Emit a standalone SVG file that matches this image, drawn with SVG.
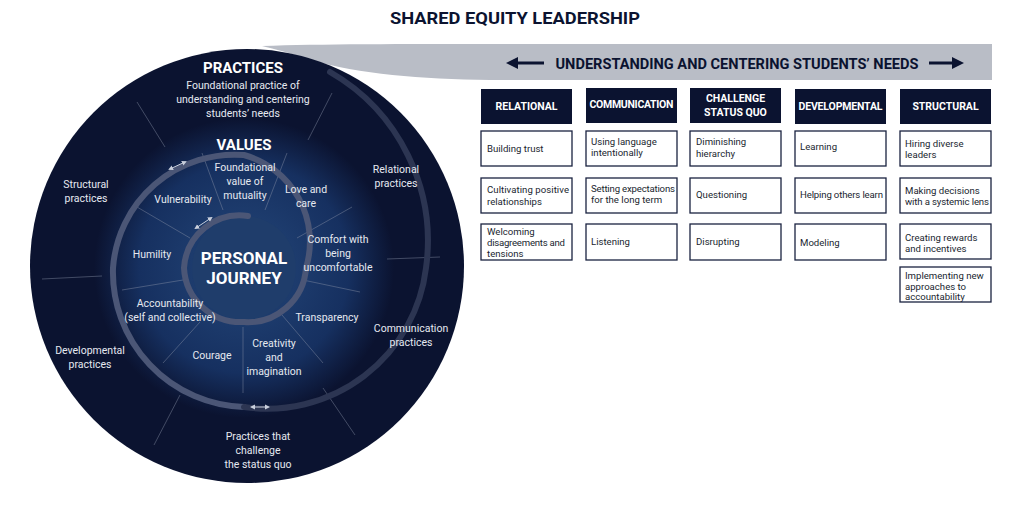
<svg xmlns="http://www.w3.org/2000/svg" width="1024" height="508" viewBox="0 0 1024 508">
<style>
text{font-family:Roboto,"Liberation Sans",sans-serif}
.w{fill:#e6e9f0;font-size:10.5px;text-anchor:middle}
.hd{fill:#fff;font-weight:bold;text-anchor:middle}
.rad{stroke:#8a93a8;stroke-width:0.8;opacity:0.55}
.cell{fill:#fff;stroke:#1a2240;stroke-width:1.3}
.hbox{fill:#0b1330}
.ct{fill:#1a1f30;font-size:9.6px}
.ht{fill:#fff;font-weight:bold;font-size:10.5px;text-anchor:middle}
</style>
<defs>
<radialGradient id="vg" cx="0.5" cy="0.5" r="0.5">
<stop offset="0" stop-color="#24477a"/><stop offset="0.7" stop-color="#163060"/><stop offset="1" stop-color="#0b1330"/>
</radialGradient>
<marker id="ah" markerWidth="6" markerHeight="6" refX="3" refY="3" orient="auto-start-reverse"><path d="M0,0.5 L5,3 L0,5.5z" fill="#c9cfdc"/></marker>
<marker id="bk" markerWidth="4" markerHeight="4" refX="2" refY="2" orient="auto-start-reverse"><path d="M0,0 L4,2 L0,4z" fill="#0b1330"/></marker>
</defs>
<rect width="1024" height="508" fill="#fff"/>
<text x="515" y="24" class="hd" style="fill:#0b1330;font-size:17px" textLength="250" lengthAdjust="spacingAndGlyphs">SHARED EQUITY LEADERSHIP</text>
<g id="band">
<path d="M262,46 C320,44 400,44 500,44 L992,44 L992,80 L490,80 C420,79 360,74 310,60 C290,53 275,49 262,46Z" fill="#b9bdc6"/>
<line x1="512" y1="63" x2="544" y2="63" stroke="#0b1330" stroke-width="3" marker-start="url(#bk)"/>
<line x1="929" y1="63" x2="958" y2="63" stroke="#0b1330" stroke-width="3" marker-end="url(#bk)"/>
<text x="737" y="69" class="hd" style="fill:#0b1330;font-size:14.5px" textLength="363" lengthAdjust="spacingAndGlyphs">UNDERSTANDING AND CENTERING STUDENTS’ NEEDS</text>
</g>
<g id="wheel">
<circle cx="247" cy="266" r="217" fill="#0b1330"/>
<circle cx="244" cy="268" r="150" fill="url(#vg)"/>
<circle cx="244" cy="268" r="52" fill="#1f3d6b"/>
</g>
<g id="dividers">
<line class="rad" x1="137" y1="102" x2="165" y2="147"/>
<line class="rad" x1="332" y1="93" x2="308" y2="140"/>
<line class="rad" x1="440" y1="257" x2="387" y2="259"/>
<line class="rad" x1="323" y1="388" x2="355" y2="435"/>
<line class="rad" x1="180" y1="395" x2="154" y2="445"/>
<line class="rad" x1="42" y1="279" x2="102" y2="276"/>
<line class="rad" x1="202" y1="153" x2="223" y2="210"/>
<line class="rad" x1="287" y1="153" x2="265" y2="210"/>
<line class="rad" x1="352" y1="207" x2="297" y2="238"/>
<line class="rad" x1="303" y1="280" x2="360" y2="292"/>
<line class="rad" x1="282" y1="315" x2="323" y2="363"/>
<line class="rad" x1="243" y1="327" x2="243" y2="393"/>
<line class="rad" x1="200" y1="322" x2="163" y2="363"/>
<line class="rad" x1="183" y1="280" x2="122" y2="290"/>
<line class="rad" x1="190" y1="238" x2="137" y2="207"/>
</g>
<g id="spiral" fill="none" stroke-linecap="round">
<path d="M248,216 A56 56 0 0 0 184,268 A57 57 0 0 0 244,322 A58 58 0 0 0 306,268 A90 90 0 0 0 244,155 A122 122 0 0 0 113,268 A135 135 0 0 0 244,407" stroke="#4b5676" stroke-width="6"/>
<path d="M244,407 A160 160 0 0 0 426,268 A195 195 0 0 0 330,72" stroke="#2c3552" stroke-width="6"/>
<line x1="196" y1="228" x2="211" y2="218" stroke="#c9cfdc" stroke-width="1" marker-start="url(#ah)" marker-end="url(#ah)"/>
<line x1="170" y1="169" x2="185" y2="162" stroke="#c9cfdc" stroke-width="1" marker-start="url(#ah)" marker-end="url(#ah)"/>
<line x1="252" y1="407" x2="268" y2="407" stroke="#c9cfdc" stroke-width="1" marker-start="url(#ah)" marker-end="url(#ah)"/>
</g>
<g id="labels">
<text x="243" y="73" class="hd" style="font-size:15px">PRACTICES</text>
<text class="w"><tspan x="243" y="89">Foundational practice of</tspan><tspan x="243" y="103">understanding and centering</tspan><tspan x="243" y="117">students’ needs</tspan></text>
<text x="244" y="150" class="hd" style="font-size:15px">VALUES</text>
<text class="w"><tspan x="86" y="188">Structural</tspan><tspan x="86" y="202">practices</tspan></text>
<text class="w"><tspan x="396" y="173">Relational</tspan><tspan x="396" y="187">practices</tspan></text>
<text class="w"><tspan x="411" y="332">Communication</tspan><tspan x="411" y="346">practices</tspan></text>
<text class="w"><tspan x="90" y="354">Developmental</tspan><tspan x="90" y="368">practices</tspan></text>
<text class="w"><tspan x="258" y="440">Practices that</tspan><tspan x="258" y="454">challenge</tspan><tspan x="258" y="468">the status quo</tspan></text>
<text class="w"><tspan x="245" y="171">Foundational</tspan><tspan x="245" y="185">value of</tspan><tspan x="245" y="199">mutuality</tspan></text>
<text class="w"><tspan x="306" y="193">Love and</tspan><tspan x="306" y="207">care</tspan></text>
<text x="183" y="203" class="w">Vulnerability</text>
<text class="w"><tspan x="338" y="243">Comfort with</tspan><tspan x="338" y="257">being</tspan><tspan x="338" y="271">uncomfortable</tspan></text>
<text x="152" y="258" class="w">Humility</text>
<text class="w"><tspan x="170" y="307">Accountability</tspan><tspan x="170" y="321">(self and collective)</tspan></text>
<text x="327" y="321" class="w">Transparency</text>
<text x="212" y="359" class="w">Courage</text>
<text class="w"><tspan x="274" y="347">Creativity</tspan><tspan x="274" y="361">and</tspan><tspan x="274" y="375">imagination</tspan></text>
<text class="hd" style="font-size:17px"><tspan x="244" y="264">PERSONAL</tspan><tspan x="244" y="284">JOURNEY</tspan></text>
</g>
<g id="col-relational">
<rect class="hbox" x="481" y="89" width="91" height="35"/><text x="526.5" y="110" class="ht">RELATIONAL</text>
<rect class="cell" x="481" y="131" width="91" height="35"/><text x="487" y="152" class="ct">Building trust</text>
<rect class="cell" x="481" y="178" width="91" height="35"/><text class="ct"><tspan x="487" y="193" textLength="82">Cultivating positive</tspan><tspan x="487" y="205">relationships</tspan></text>
<rect class="cell" x="481" y="224" width="91" height="36"/><text class="ct"><tspan x="487" y="235">Welcoming</tspan><tspan x="487" y="246" textLength="78">disagreements and</tspan><tspan x="487" y="257">tensions</tspan></text>
</g>
<g id="col-communication">
<rect class="hbox" x="586" y="88" width="91" height="35"/><text x="631.5" y="108" class="ht" textLength="84">COMMUNICATION</text>
<rect class="cell" x="586" y="131" width="91" height="35"/><text class="ct"><tspan x="591" y="145">Using language</tspan><tspan x="591" y="156">intentionally</tspan></text>
<rect class="cell" x="586" y="178" width="91" height="35"/><text class="ct"><tspan x="591" y="192" textLength="84">Setting expectations</tspan><tspan x="591" y="203">for the long term</tspan></text>
<rect class="cell" x="586" y="224" width="91" height="36"/><text x="591" y="245" class="ct">Listening</text>
</g>
<g id="col-challenge">
<rect class="hbox" x="690" y="88" width="91" height="35"/><text class="ht"><tspan x="735.5" y="102">CHALLENGE</tspan><tspan x="735.5" y="116">STATUS QUO</tspan></text>
<rect class="cell" x="690" y="131" width="91" height="35"/><text class="ct"><tspan x="696" y="145">Diminishing</tspan><tspan x="696" y="157">hierarchy</tspan></text>
<rect class="cell" x="690" y="178" width="91" height="35"/><text x="696" y="198" class="ct">Questioning</text>
<rect class="cell" x="690" y="224" width="91" height="36"/><text x="696" y="245" class="ct">Disrupting</text>
</g>
<g id="col-developmental">
<rect class="hbox" x="795" y="89" width="91" height="35"/><text x="840.5" y="110" class="ht" textLength="84">DEVELOPMENTAL</text>
<rect class="cell" x="795" y="131" width="91" height="35"/><text x="800" y="150" class="ct">Learning</text>
<rect class="cell" x="795" y="178" width="91" height="35"/><text x="800" y="198" class="ct" textLength="83">Helping others learn</text>
<rect class="cell" x="795" y="224" width="91" height="36"/><text x="800" y="246" class="ct">Modeling</text>
</g>
<g id="col-structural">
<rect class="hbox" x="900" y="89" width="91" height="35"/><text x="945.5" y="110" class="ht">STRUCTURAL</text>
<rect class="cell" x="900" y="131" width="91" height="35"/><text class="ct"><tspan x="905" y="147">Hiring diverse</tspan><tspan x="905" y="158">leaders</tspan></text>
<rect class="cell" x="900" y="178" width="91" height="35"/><text class="ct"><tspan x="905" y="194">Making decisions</tspan><tspan x="905" y="205" textLength="84">with a systemic lens</tspan></text>
<rect class="cell" x="900" y="224" width="91" height="35"/><text class="ct"><tspan x="905" y="241">Creating rewards</tspan><tspan x="905" y="252">and incentives</tspan></text>
<rect class="cell" x="900" y="267" width="91" height="35"/><text class="ct"><tspan x="905" y="279">Implementing new</tspan><tspan x="905" y="290">approaches to</tspan><tspan x="905" y="300">accountability</tspan></text>
</g>
</svg>
